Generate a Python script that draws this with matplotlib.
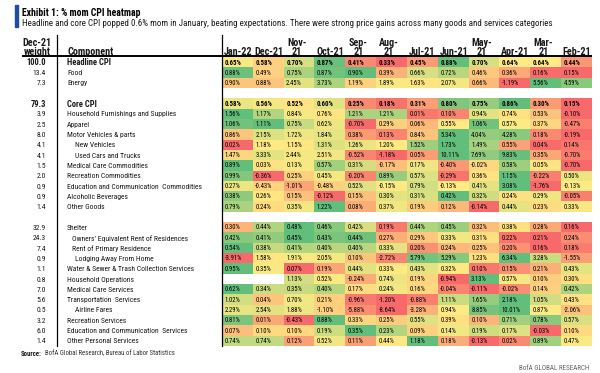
import numpy as np
import matplotlib
matplotlib.use("Agg")
import matplotlib.pyplot as plt
from matplotlib import font_manager

_installed = {f.name for f in font_manager.fontManager.ttflist}
MAIN = 'DejaVu Sans'
for cand in ['Roboto Condensed', 'Liberation Sans Narrow', 'Open Sans Condensed', 'Roboto',
             'Liberation Sans']:
    if cand in _installed:
        MAIN = cand
        break
FONT = [MAIN, 'DejaVu Sans']
plt.rcParams['font.family'] = FONT

# ---------------- data ----------------
months = ["Jan-22", "Dec-21", "Nov-21", "Oct-21", "Sep-21", "Aug-21",
          "Jul-21", "Jun-21", "May-21", "Apr-21", "Mar-21", "Feb-21"]
two_line_months = ["Nov-21", "Sep-21", "Aug-21", "May-21", "Mar-21"]

components = ["Headline CPI", "Food", "Energy", None,
              "Core CPI", "Household Furnishings and Supplies", "Apparel",
              "Motor Vehicles & parts", "New Vehicles", "Used Cars and Trucks",
              "Medical Care Commodities", "Recreation Commodities",
              "Education and Communication  Commodities", "Alcoholic Beverages",
              "Other Goods", None,
              "Shelter", "Owners\u2019 Equivalent Rent of Residences",
              "Rent of Primary Residence", "Lodging Away From Home",
              "Water & Sewer & Trash Collection Services", "Household Operations",
              "Medical Care Services", "Transportation  Services", "Airline Fares",
              "Recreation Services", "Education and Communication  Services",
              "Other Personal Services"]
indent_px = [0, 0, 0, 0, 0, 0, 0, 0, 8, 8, 0, 0, 0, 0, 0, 0,
             0, 5, 5, 8, 0, 0, 0, 0, 8, 0, 0, 0]
bold_rows = ["Headline CPI", "Core CPI"]

weights = ["100.0", "13.4", "7.3", "", "79.3", "3.9", "2.5", "8.0", "4.1", "4.1",
           "1.5", "2.0", "0.9", "0.9", "1.4", "", "32.9", "24.3", "7.4", "0.9",
           "1.1", "0.8", "7.0", "5.6", "0.5", "3.2", "6.0", "1.4"]

nan = np.nan
headline_cpi = [0.65, 0.58, 0.70, 0.87, 0.41, 0.33, 0.45, 0.88, 0.70, 0.64, 0.64, 0.44]
food = [0.88, 0.49, 0.75, 0.87, 0.90, 0.39, 0.66, 0.72, 0.46, 0.36, 0.16, 0.15]
energy = [0.90, 0.88, 2.45, 3.73, 1.19, 1.89, 1.63, 2.07, 0.66, -1.19, 5.56, 4.59]
core_cpi = [0.58, 0.56, 0.52, 0.60, 0.25, 0.18, 0.31, 0.80, 0.75, 0.86, 0.30, 0.15]
hh_furnishings = [1.56, 1.17, 0.84, 0.76, 1.21, 1.21, 0.01, 0.10, 0.94, 0.74, 0.53, -0.10]
apparel = [1.06, 1.11, 0.75, 0.62, -0.70, 0.29, 0.06, 0.55, 1.06, 0.57, 0.37, -0.47]
motor_vehicles = [0.86, 2.15, 1.72, 1.84, 0.38, 0.13, 0.84, 5.34, 4.04, 4.28, 0.18, -0.19]
new_vehicles = [0.02, 1.18, 1.15, 1.31, 1.26, 1.20, 1.52, 1.73, 1.49, 0.55, 0.04, 0.14]
used_cars = [1.47, 3.33, 2.44, 2.51, -0.52, -1.18, 0.05, 10.11, 7.69, 9.83, 0.35, -0.70]
medical_commod = [0.89, 0.03, 0.13, 0.57, 0.31, -0.17, 0.17, -0.40, -0.02, 0.58, 0.05, -0.70]
recreation_commod = [0.99, -0.36, 0.25, 0.45, -0.20, 0.89, 0.57, -0.29, 0.36, 1.15, -0.22, 0.50]
educ_comm_commod = [0.27, -0.43, -1.01, -0.48, 0.52, -0.15, 0.79, -0.13, 0.41, 3.08, -1.76, -0.13]
alcoholic = [0.38, 0.26, 0.15, -0.12, 0.15, 0.30, 0.31, 0.42, 0.32, 0.24, 0.29, -0.05]
other_goods = [0.79, 0.24, 0.35, 1.22, 0.08, 0.37, 0.19, 0.12, -0.14, 0.44, 0.23, 0.33]
shelter = [0.30, 0.44, 0.48, 0.46, 0.42, 0.19, 0.44, 0.45, 0.32, 0.38, 0.28, 0.16]
oer = [0.42, 0.41, 0.45, 0.43, 0.44, 0.27, 0.29, 0.33, 0.31, 0.22, 0.21, 0.24]
rent = [0.54, 0.38, 0.41, 0.40, 0.40, 0.33, 0.20, 0.24, 0.25, 0.20, 0.16, 0.18]
lodging = [-3.91, 1.58, 1.91, 2.05, 0.10, -2.72, 5.79, 5.29, 1.23, 6.34, 3.28, -1.55]
water_sewer = [0.95, 0.35, 0.07, 0.19, 0.44, 0.33, 0.43, 0.32, 0.10, 0.15, 0.21, 0.43]
hh_operations = [nan, nan, 1.13, 0.52, -0.24, 0.74, 0.19, -0.94, 3.13, 0.57, 0.10, 0.30]
medical_services = [0.62, 0.34, 0.35, 0.40, 0.17, 0.24, 0.16, -0.04, -0.11, -0.02, 0.14, 0.42]
transport_services = [1.02, 0.04, 0.70, 0.21, -0.96, -1.20, -0.88, 1.11, 1.65, 2.18, 1.05, 0.43]
airline_fares = [2.29, 2.54, 1.88, -1.10, -5.88, -8.64, -3.28, 0.94, 8.85, 10.01, 0.87, -2.06]
recreation_services = [0.81, 0.01, -0.43, 0.88, 0.33, 0.25, 0.55, 0.39, 0.10, 0.71, 0.78, 0.57]
educ_comm_services = [0.07, 0.10, 0.10, 0.19, 0.35, 0.23, 0.09, 0.14, 0.19, 0.17, -0.03, 0.10]
other_personal = [0.74, 0.74, 0.12, 0.52, 0.11, 0.44, 1.18, 0.18, -0.13, 0.02, 0.89, 0.47]

blank = [nan] * 12
table = np.array([headline_cpi, food, energy, blank, core_cpi, hh_furnishings, apparel,
                  motor_vehicles, new_vehicles, used_cars, medical_commod,
                  recreation_commod, educ_comm_commod, alcoholic, other_goods, blank,
                  shelter, oer, rent, lodging, water_sewer, hh_operations,
                  medical_services, transport_services, airline_fares,
                  recreation_services, educ_comm_services, other_personal], dtype=float)

# ---------------- colours (Excel style 3-colour scale, per row) ----------------
RED = np.array([248, 105, 107]) / 255
YEL = np.array([255, 235, 132]) / 255
GRN = np.array([99, 190, 123]) / 255

nrows, ncols = table.shape
rgb = np.ones((nrows, ncols, 3))
for i in range(nrows):
    row = table[i]
    if np.all(np.isnan(row)):
        continue
    lo, mid, hi = np.nanmin(row), np.nanpercentile(row, 50), np.nanmax(row)
    for j in range(ncols):
        v = row[j]
        if np.isnan(v):
            continue
        if v <= mid:
            t = 0 if mid == lo else (v - lo) / (mid - lo)
            rgb[i, j] = RED + (YEL - RED) * t
        else:
            t = (v - mid) / (hi - mid)
            rgb[i, j] = YEL + (GRN - YEL) * t

# ---------------- figure ----------------
W, H = 600, 373
fig = plt.figure(figsize=(6, 3.73), dpi=100)
renderer = fig.canvas.get_renderer()


def fit_size(text, target_px, weight='normal'):
    t = fig.text(0, 0, text, fontsize=10, fontweight=weight)
    w = t.get_window_extent(renderer=renderer).width
    t.remove()
    return 10 * target_px / w


X0, X1, Y0, Y1 = 222, 592, 57.1, 346.1
ax = fig.add_axes([X0 / W, 1 - Y1 / H, (X1 - X0) / W, (Y1 - Y0) / H])
ax.imshow(rgb, extent=(0, ncols, nrows, 0), aspect='auto', interpolation='nearest')
ax.set_xlim(0, ncols)
ax.set_ylim(nrows, 0)
ax.axis('off')

cw = (X1 - X0) / ncols
rh = (Y1 - Y0) / nrows


def px(x):
    return (x - X0) / cw


def py(y):
    return (y - Y0) / rh


VAL_FS = fit_size("0.88%", 15.5)
VAL_FS_B = fit_size("0.88%", 16.5, 'bold')
LBL_FS = fit_size("Household Furnishings and Supplies", 110)
LBL_FS_B = fit_size("Headline CPI", 44, 'bold')
HFS = fit_size("Component", 46, 'bold')
TXT = '#1a1a1a'

# cell values
for i in range(nrows):
    bold = components[i] in bold_rows
    for j in range(ncols):
        v = table[i, j]
        if np.isnan(v):
            continue
        ax.text(j + 0.08, i + 0.55, f"{v:.2f}%", ha='left', va='center',
                fontsize=VAL_FS_B if bold else VAL_FS, color='black',
                fontweight='bold' if bold else 'normal')

# component labels and weights
for i, name in enumerate(components):
    if name is None:
        continue
    bold = name in bold_rows
    ax.text(px(67 + indent_px[i]), i + 0.55, name, ha='left', va='center',
            fontsize=LBL_FS_B if bold else LBL_FS, color=TXT,
            fontweight='bold' if bold else 'normal', clip_on=False)
    ax.text(px(46), i + 0.55, weights[i], ha='right', va='center',
            fontsize=LBL_FS_B if bold else LBL_FS, color=TXT,
            fontweight='bold' if bold else 'normal', clip_on=False)

# header
for j, m in enumerate(months):
    if m in two_line_months:
        a, b = m.split('-')
        ax.text(j + 0.42, py(43), a + '-', ha='center', va='center', fontsize=HFS,
                fontweight='bold', color=TXT, clip_on=False)
        ax.text(j + 0.42, py(51.5), b, ha='center', va='center', fontsize=HFS,
                fontweight='bold', color=TXT, clip_on=False)
    else:
        ax.text(j + 0.05, py(51.5), m, ha='left', va='center', fontsize=HFS,
                fontweight='bold', color=TXT, clip_on=False)
ax.text(px(37), py(43), "Dec-21", ha='center', va='center', fontsize=HFS,
        fontweight='bold', color=TXT, clip_on=False)
ax.text(px(37), py(51.5), "weight", ha='center', va='center', fontsize=HFS,
        fontweight='bold', color=TXT, clip_on=False)
ax.text(px(67), py(51.5), "Component", ha='left', va='center', fontsize=HFS,
        fontweight='bold', color=TXT, clip_on=False)

# rules
ax.plot([px(22), px(592)], [py(56), py(56)], color='black', lw=1.4,
        clip_on=False, solid_capstyle='butt')
ax.plot([px(56.5), px(56.5)], [py(35), py(346)], color='black', lw=0.9,
        clip_on=False)
ax.plot([px(222), px(222)], [py(35), py(346)], color='black', lw=0.9,
        clip_on=False)

# title block
title = "Exhibit 1: % mom CPI heatmap"
subtitle = ("Headline and core CPI popped 0.6% mom in January, beating expectations. "
            "There were strong price gains across many goods and services categories")
fig.patches.append(plt.Rectangle((14.5 / W, 1 - 27 / H), 3.5 / W, 22 / H,
                                 transform=fig.transFigure, color='#1f4e9c'))
fig.text(22.5 / W, 1 - 13 / H, title, ha='left', va='center',
         fontsize=fit_size(title, 119, 'bold'), fontweight='bold', color='black')
fig.text(22.5 / W, 1 - 24 / H, subtitle, ha='left', va='center',
         fontsize=fit_size(subtitle, 524), color=TXT)

# footer
src_rest = "BofA Global Research, Bureau of Labor Statistics"
SFS = fit_size(src_rest, 130)
t_src = fig.text(21 / W, 1 - 354 / H, "Source:", ha='left', va='center', fontsize=SFS,
                 fontweight='bold', color=TXT)
bb = t_src.get_window_extent(renderer=renderer)
fig.text((bb.x1 + 3) / W, 1 - 354 / H, src_rest,
         ha='left', va='center', fontsize=SFS, color='#333333')
brand = "BofA GLOBAL RESEARCH"
fig.text(589 / W, 1 - 368 / H, brand, ha='right', va='center',
         fontsize=fit_size(brand, 71), color='#666666')

fig.savefig("out.png", dpi=100, facecolor='white')
